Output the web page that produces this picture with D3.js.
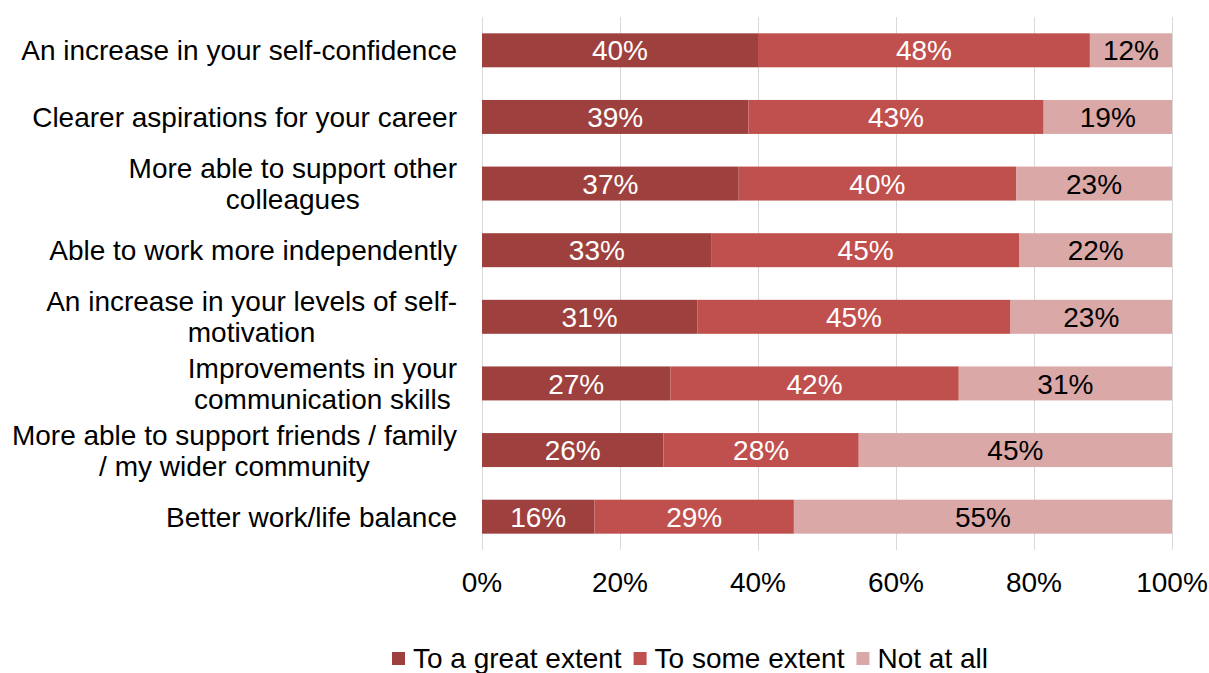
<!DOCTYPE html>
<html>
<head>
<meta charset="utf-8">
<script src="https://cdn.jsdelivr.net/npm/d3@7"></script>
<style>
  body { margin: 0; background: #fff; }
  text { font-family: "Liberation Sans", Arial, sans-serif; }
</style>
</head>
<body>
<svg id="chart" width="1209" height="673"></svg>
<script>
// categories, top to bottom; "\n" marks the wrapped lines
var categories = [
  "An increase in your self-confidence",
  "Clearer aspirations for your career",
  "More able to support other\ncolleagues",
  "Able to work more independently",
  "An increase in your levels of self-\nmotivation",
  "Improvements in your\ncommunication skills",
  "More able to support friends / family\n/ my wider community",
  "Better work/life balance"
];
var seriesNames = ["To a great extent", "To some extent", "Not at all"];
var greatExtent = [40.0, 38.6, 37.2, 33.3, 31.2, 27.3, 26.3, 16.3];
var someExtent  = [48.1, 42.8, 40.2, 44.6, 45.4, 41.8, 28.3, 28.9];
var notAtAll    = [11.9, 18.6, 22.6, 22.1, 23.4, 30.9, 45.4, 54.8];
var xTicks = [0, 20, 40, 60, 80, 100];

var colors = ["#9e413e", "#c0504d", "#d9a8a7"];
var labelColors = ["#fff", "#fff", "#000"];

var svg = d3.select("#chart"),
  m = {left: 482, right: 37, top: 17, bottom: 123},
  W = 1209, H = 673,
  fs = 28;

var rows = categories.map(function (c, i) {
  return {cat: c, s0: greatExtent[i], s1: someExtent[i], s2: notAtAll[i]};
});

var x = d3.scaleLinear().domain([0, 100]).range([m.left, W - m.right]);
var y = d3.scaleBand().domain(categories).range([m.top, H - m.bottom]).paddingInner(0.49).paddingOuter(0.245);

// gridlines
svg.append("g").selectAll("line")
  .data(xTicks)
  .enter().append("line")
  .attr("x1", function (d) { return x(d) + 0.5 })
  .attr("x2", function (d) { return x(d) + 0.5 })
  .attr("y1", m.top)
  .attr("y2", H - m.bottom)
  .attr("stroke", "#d9d9d9")
  .attr("stroke-width", 1);

var stack = d3.stack().keys(["s0", "s1", "s2"]);
var layers = stack(rows);

var g = svg.append("g").selectAll("g")
  .data(layers)
  .enter().append("g")
  .attr("fill", function (d, i) { return colors[i] });

g.selectAll("rect")
  .data(function (d) { return d })
  .enter().append("rect")
  .attr("x", function (d) { return x(d[0]) })
  .attr("y", function (d) { return y(d.data.cat) })
  .attr("width", function (d) { return x(d[1]) - x(d[0]) })
  .attr("height", y.bandwidth());

// value labels
layers.forEach(function (layer, li) {
  svg.append("g").selectAll("text")
    .data(layer)
    .enter().append("text")
    .attr("x", function (d) { return (x(d[0]) + x(d[1])) / 2 })
    .attr("y", function (d) { return y(d.data.cat) + y.bandwidth() / 2 })
    .attr("dy", "0.36em")
    .attr("text-anchor", "middle")
    .attr("font-size", fs + "px")
    .attr("fill", labelColors[li])
    .text(function (d) { return Math.round(d[1] - d[0]) + "%" });
});

// category labels: lines centred on each other, block right-aligned
var catG = svg.append("g");
categories.forEach(function (c) {
  var lines = c.split("\n"),
    cy = y(c) + y.bandwidth() / 2,
    lh = 31;
  var t = catG.append("g");
  var texts = lines.map(function (l, k) {
    return t.append("text")
      .attr("y", cy + (k - (lines.length - 1) / 2) * lh)
      .attr("dy", "0.36em")
      .attr("font-size", fs + "px")
      .attr("fill", "#000")
      .attr("text-anchor", "middle")
      .text(l);
  });
  var widths = texts.map(function (tx) { return tx.node().getComputedTextLength() });
  var maxW = d3.max(widths);
  texts.forEach(function (tx) { tx.attr("x", 457 - maxW / 2) });
});

// x axis labels
svg.append("g").selectAll("text")
  .data(xTicks)
  .enter().append("text")
  .attr("x", function (d) { return x(d) })
  .attr("y", 592)
  .attr("text-anchor", "middle")
  .attr("font-size", fs + "px")
  .attr("fill", "#000")
  .text(function (d) { return d + "%" });

// legend
var lg = svg.append("g");
var lx = 392;
seriesNames.forEach(function (n, i) {
  lg.append("rect")
    .attr("x", lx).attr("y", 652)
    .attr("width", 13).attr("height", 13)
    .attr("fill", colors[i]);
  var t = lg.append("text")
    .attr("x", lx + 21).attr("y", 668)
    .attr("font-size", fs + "px")
    .attr("fill", "#000")
    .text(n);
  lx += 21 + t.node().getComputedTextLength() + 12;
});
</script>
</body>
</html>
